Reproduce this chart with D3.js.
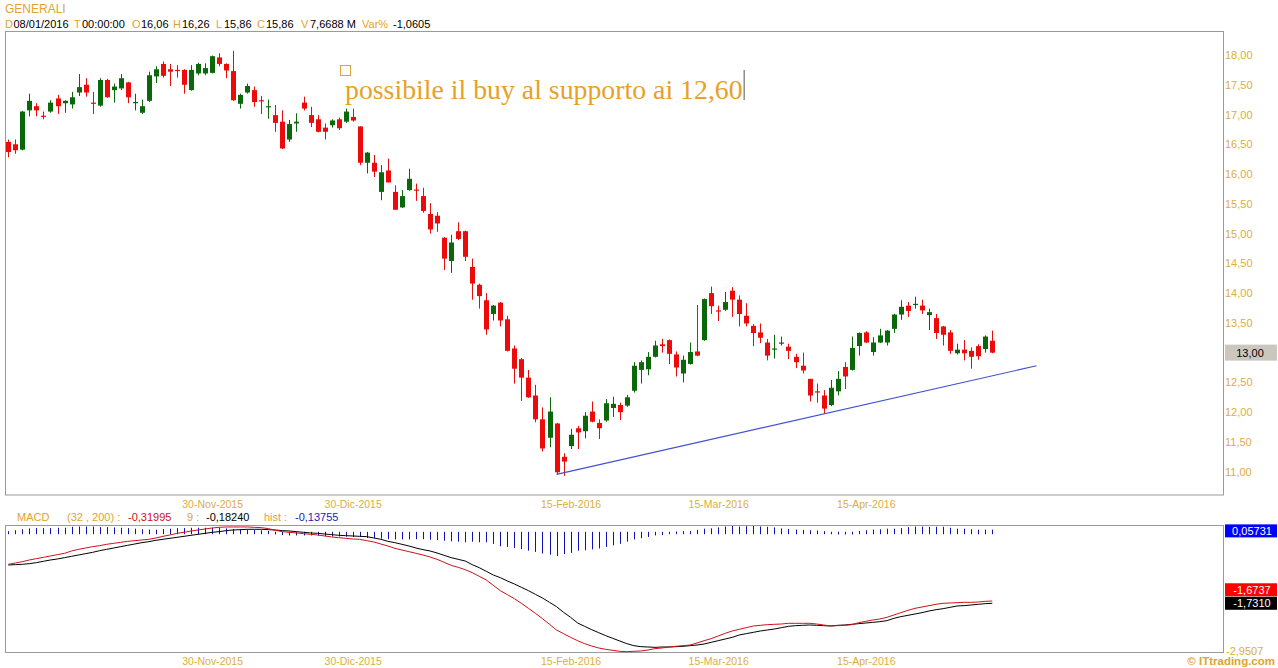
<!DOCTYPE html>
<html><head><meta charset="utf-8">
<script src="https://cdn.jsdelivr.net/npm/d3@7"></script>
<style>body{margin:0;background:#fff}svg{display:block;font-family:"Liberation Sans",Arial,sans-serif}</style>
</head><body><svg id="c" width="1278" height="668"></svg>
<script>
// ---- data ----
const open = [16.54,16.50,16.41,17.07,17.14,16.98,17.05,17.27,17.19,17.17,17.37,17.50,17.20,17.15,17.58,17.41,17.44,17.54,17.19,17.03,
17.23,17.64,17.85,17.76,17.75,17.75,17.41,17.69,17.69,17.70,17.96,17.85,17.73,17.18,17.37,17.41,17.24,17.12,16.99,16.88,
16.58,16.85,17.20,16.99,16.92,16.78,16.82,16.92,16.88,16.96,16.80,16.19,16.19,15.70,16.06,15.70,15.44,15.73,15.74,15.63,
15.33,15.30,14.93,14.54,15.04,15.04,14.44,14.14,13.88,13.65,13.84,13.56,13.07,12.89,12.58,12.28,11.88,11.57,11.81,11.25,
11.43,11.73,11.68,12.01,11.82,11.86,12.07,12.12,12.11,12.36,12.71,12.72,12.93,13.14,13.21,12.97,12.65,12.81,13.02,13.21,
14.00,13.71,13.72,14.04,13.89,13.62,13.45,13.34,13.17,13.06,13.16,13.10,12.93,12.78,12.56,12.35,12.28,12.12,12.35,12.76,
12.71,13.11,13.34,13.01,13.17,13.17,13.40,13.64,13.79,13.81,13.79,13.63,13.58,13.44,13.34,12.99,13.05,13.03,13.11,13.06,13.20];
const high = [16.58,16.58,17.06,17.35,17.19,17.05,17.24,17.33,17.24,17.38,17.68,17.61,17.38,17.61,17.60,17.52,17.68,17.55,17.35,17.25,
17.72,17.81,17.89,17.85,17.83,17.76,17.83,17.87,17.86,17.99,18.03,17.86,18.07,17.35,17.52,17.47,17.31,17.25,17.16,17.07,
16.91,17.02,17.30,17.13,16.99,16.85,16.92,16.95,17.10,17.10,16.80,16.37,16.32,16.15,16.26,15.81,15.73,16.09,15.84,15.77,
15.51,15.36,14.94,14.98,15.19,15.05,14.58,14.16,14.00,13.80,13.85,13.62,13.12,12.91,12.71,12.46,12.08,12.25,11.82,11.31,
11.72,11.77,12.00,12.18,11.88,12.22,12.26,12.16,12.29,12.84,12.87,13.01,13.20,13.23,13.22,13.02,12.95,13.17,13.80,13.91,
14.11,13.79,14.02,14.10,13.96,13.83,13.48,13.49,13.23,13.30,13.27,13.15,12.98,13.00,12.56,12.48,12.37,12.54,12.69,12.84,
13.27,13.34,13.36,13.26,13.40,13.38,13.65,13.88,13.85,13.94,13.89,13.74,13.65,13.45,13.38,13.15,13.21,13.09,13.14,13.29,13.37];
const low = [16.28,16.34,16.40,16.97,16.97,16.92,17.03,17.01,17.03,17.10,17.31,17.30,17.01,17.13,17.28,17.20,17.41,17.19,17.07,17.01,
17.21,17.53,17.62,17.48,17.62,17.35,17.40,17.66,17.66,17.69,17.81,17.61,17.23,17.10,17.35,17.13,17.01,16.93,16.71,16.42,
16.54,16.71,17.07,16.79,16.70,16.58,16.78,16.74,16.86,16.88,16.15,16.01,15.95,15.56,15.86,15.40,15.43,15.72,15.55,15.35,
15.00,15.03,14.39,14.34,14.89,14.54,13.89,13.74,13.30,13.54,13.44,13.02,12.48,12.19,12.24,11.83,11.34,11.41,10.96,10.93,
11.38,11.38,11.56,11.83,11.55,11.84,11.92,11.87,12.09,12.33,12.48,12.62,12.92,13.00,12.81,12.60,12.50,12.80,12.94,13.20,
13.65,13.53,13.70,13.60,13.44,13.44,13.11,13.16,12.87,12.90,13.12,12.89,12.74,12.65,12.18,12.16,11.98,12.10,12.28,12.39,
12.70,12.95,13.16,12.95,13.16,13.12,13.33,13.55,13.60,13.74,13.65,13.38,13.23,13.12,12.98,12.97,12.87,12.73,12.88,13.00,12.99];
const close = [16.37,16.40,17.05,17.23,17.07,16.96,17.20,17.14,17.23,17.29,17.46,17.37,17.19,17.58,17.29,17.47,17.61,17.29,17.21,17.14,
17.66,17.76,17.65,17.72,17.74,17.50,17.75,17.85,17.78,17.98,17.85,17.74,17.24,17.33,17.48,17.21,17.22,17.14,16.86,16.43,
16.84,16.88,17.10,16.86,16.71,16.71,16.90,16.77,17.05,16.90,16.19,16.36,16.04,16.03,15.86,15.40,15.63,15.92,15.73,15.38,
15.07,15.17,14.58,14.85,14.91,14.61,14.16,13.95,13.39,13.79,13.54,13.03,12.73,12.58,12.25,11.88,11.39,12.01,10.99,11.17,
11.62,11.66,11.94,11.84,11.73,12.15,12.14,12.00,12.25,12.78,12.84,12.93,13.12,13.11,12.98,12.75,12.88,13.01,12.95,13.90,
13.78,13.69,13.85,13.89,13.65,13.49,13.33,13.25,12.95,13.07,13.17,13.03,12.84,12.70,12.28,12.34,12.06,12.41,12.56,12.60,
13.08,13.33,13.17,13.17,13.29,13.37,13.64,13.77,13.70,13.82,13.71,13.68,13.33,13.30,13.03,13.05,12.99,12.93,12.94,13.27,13.00];

const macd = [-0.750,-0.716,-0.683,-0.641,-0.607,-0.574,-0.540,-0.506,-0.473,-0.414,-0.372,-0.339,-0.305,-0.280,-0.246,-0.221,-0.196,-0.171,-0.154,-0.137,
-0.120,-0.087,-0.045,-0.011,0.031,0.056,0.090,0.115,0.140,0.165,0.182,0.191,0.191,0.191,0.191,0.182,0.174,0.149,0.107,0.073,
0.056,0.040,0.023,0.006,-0.011,-0.036,-0.061,-0.078,-0.095,-0.112,-0.120,-0.154,-0.187,-0.238,-0.288,-0.347,-0.389,-0.431,-0.473,-0.515,
-0.565,-0.624,-0.699,-0.775,-0.825,-0.884,-0.960,-1.052,-1.144,-1.279,-1.413,-1.514,-1.615,-1.732,-1.858,-1.984,-2.119,-2.261,-2.404,-2.496,
-2.589,-2.673,-2.748,-2.807,-2.857,-2.891,-2.916,-2.941,-2.950,-2.941,-2.933,-2.908,-2.874,-2.857,-2.832,-2.815,-2.799,-2.782,-2.731,-2.673,
-2.622,-2.555,-2.488,-2.429,-2.387,-2.345,-2.303,-2.286,-2.270,-2.261,-2.253,-2.236,-2.236,-2.236,-2.236,-2.253,-2.278,-2.303,-2.295,-2.286,
-2.270,-2.219,-2.186,-2.152,-2.127,-2.085,-2.026,-1.967,-1.909,-1.858,-1.825,-1.791,-1.757,-1.732,-1.724,-1.715,-1.707,-1.707,-1.699,-1.682,-1.674];
const signal = [-0.767,-0.758,-0.750,-0.733,-0.708,-0.674,-0.641,-0.615,-0.582,-0.548,-0.515,-0.481,-0.448,-0.406,-0.372,-0.339,-0.305,-0.271,-0.238,-0.204,
-0.179,-0.145,-0.120,-0.095,-0.070,-0.045,-0.019,0.006,0.031,0.056,0.073,0.098,0.115,0.123,0.132,0.132,0.132,0.123,0.115,0.098,
0.090,0.073,0.056,0.040,0.031,0.014,-0.002,-0.019,-0.028,-0.036,-0.045,-0.053,-0.087,-0.120,-0.171,-0.204,-0.246,-0.288,-0.339,-0.380,
-0.414,-0.464,-0.523,-0.582,-0.624,-0.666,-0.758,-0.834,-0.926,-1.019,-1.086,-1.170,-1.245,-1.329,-1.413,-1.506,-1.598,-1.707,-1.816,-1.959,
-2.085,-2.228,-2.312,-2.396,-2.471,-2.547,-2.614,-2.681,-2.748,-2.799,-2.824,-2.832,-2.841,-2.832,-2.832,-2.824,-2.815,-2.799,-2.782,-2.757,
-2.715,-2.673,-2.631,-2.589,-2.530,-2.496,-2.463,-2.429,-2.404,-2.379,-2.345,-2.312,-2.295,-2.286,-2.278,-2.286,-2.295,-2.303,-2.286,-2.278,
-2.261,-2.244,-2.228,-2.211,-2.194,-2.169,-2.110,-2.068,-2.035,-2.001,-1.967,-1.925,-1.892,-1.867,-1.833,-1.799,-1.791,-1.774,-1.757,-1.741,-1.732];
const hist = [0.017,0.042,0.067,0.092,0.101,0.100,0.101,0.109,0.109,0.134,0.143,0.142,0.143,0.126,0.126,0.118,0.109,0.100,0.084,0.067,
0.059,0.058,0.075,0.084,0.101,0.101,0.109,0.109,0.109,0.109,0.109,0.093,0.076,0.068,0.059,0.050,0.042,0.026,-0.008,-0.025,
-0.034,-0.033,-0.033,-0.034,-0.042,-0.050,-0.059,-0.059,-0.067,-0.076,-0.075,-0.101,-0.100,-0.118,-0.138,-0.143,-0.143,-0.143,-0.134,-0.135,
-0.151,-0.160,-0.176,-0.193,-0.201,-0.218,-0.202,-0.218,-0.218,-0.260,-0.327,-0.344,-0.370,-0.403,-0.445,-0.478,-0.521,-0.554,-0.588,-0.537,
-0.504,-0.445,-0.436,-0.411,-0.386,-0.344,-0.302,-0.260,-0.202,-0.142,-0.109,-0.076,-0.033,-0.025,0.000,0.009,0.016,0.017,0.051,0.084,
0.093,0.118,0.143,0.160,0.143,0.151,0.160,0.143,0.134,0.118,0.092,0.076,0.059,0.050,0.042,0.033,0.017,0.000,-0.009,-0.008,
-0.009,0.025,0.042,0.059,0.067,0.084,0.084,0.101,0.126,0.143,0.142,0.134,0.135,0.135,0.109,0.084,0.084,0.067,0.058,0.059,0.058];

const priceTicks = [11,11.5,12,12.5,13,13.5,14,14.5,15,15.5,16,16.5,17,17.5,18];
const dateTickIdx = [30,50,81,102,123];
const dateTickLabels = ["30-Nov-2015","30-Dic-2015","15-Feb-2016","15-Mar-2016","15-Apr-2016"];
const trendPts = [[79,10.955],[147.3,12.78]];
const lastPrice = 13.00, lastMacd = -1.6737, lastSignal = -1.7310, lastHist = 0.05731, macdMin = -2.9507;
const headerLabels = ["D","T","O","H","L","C","V","Var%"];
const headerValues = ["08/01/2016","00:00:00","16,06","16,26","15,86","15,86","7,6688 M","-1,0605"];
const legendMacd = ["MACD","(32 , 200) :","-0,31995","9 :","-0,18240","hist :","-0,13755"];

// ---- drawing ----
const svg = d3.select("#c");
const ORANGE = "#e3a22e", TICK = "#dcae3c", RED = "#ec0a0a", GREEN = "#0a680a";
const loc = d3.formatLocale({decimal:",",thousands:".",grouping:[3],currency:["","€"],minus:"-"});
const f2 = loc.format(".2f"), f4 = loc.format(".4f"), f5 = loc.format(".5f");
const idx = d3.range(1, open.length + 1);

const x = d3.scaleLinear().domain([1, 141]).range([8.3, 992.3]);
const y = d3.scaleLinear().domain([11, 18]).range([471.7, 55]);
const my = d3.scaleLinear().domain([macdMin, 0.19]).range([651.7, 527]);
const hy = d3.scaleLinear().domain([0, 1]).range([533, 496]);

// header
svg.append("text").attr("x",5).attr("y",13).attr("fill",ORANGE).attr("font-size",12).text("GENERALI");
const hx = [[5,13.5],[74,82],[132,141],[173,182],[216,224],[257,266],[301,310],[362,393]];
headerLabels.forEach((l,i)=>{
  svg.append("text").attr("x",hx[i][0]).attr("y",28).attr("font-size",11).attr("fill",ORANGE).text(l);
  svg.append("text").attr("x",hx[i][1]).attr("y",28).attr("font-size",11).attr("fill","#000").text(headerValues[i]);
});

// panels
svg.append("rect").attr("x",5.5).attr("y",31.5).attr("width",1218).attr("height",463.5).attr("fill","none").attr("stroke","#9a9a9a");
svg.append("rect").attr("x",5.5).attr("y",525.5).attr("width",1218).attr("height",127).attr("fill","none").attr("stroke","#9a9a9a");

// price axis (the tick under the last-price box is covered by that box)
const ya = svg.append("g").attr("transform","translate(1223,0)")
  .call(d3.axisRight(y).tickValues(priceTicks.filter(v=>v!==lastPrice)).tickSize(0).tickPadding(2).tickFormat(f2));
ya.select(".domain").remove();
ya.selectAll("text").attr("fill",TICK).attr("font-size",11).attr("font-family","Liberation Sans, Arial, sans-serif");

// date axes
[495, 652].forEach(yy=>{
  const g = svg.append("g").attr("transform",`translate(0,${yy})`)
    .call(d3.axisBottom(x).tickValues(dateTickIdx).tickSize(0).tickPadding(6).tickFormat((d,i)=>dateTickLabels[i]));
  g.select(".domain").remove();
  g.selectAll("text").attr("fill",TICK).attr("font-size",10.5).attr("font-family","Liberation Sans, Arial, sans-serif");
});

// candles
const cg = svg.append("g");
idx.forEach((d,i)=>{
  const up = close[i] > open[i];
  const col = up ? GREEN : RED;
  const cx = Math.round(x(d));
  cg.append("line").attr("x1",cx+0.5).attr("x2",cx+0.5).attr("y1",y(high[i])).attr("y2",y(low[i])).attr("stroke",col).attr("stroke-width",1);
  const top = y(Math.max(open[i],close[i])), bot = y(Math.min(open[i],close[i]));
  cg.append("rect").attr("x",cx-2).attr("width",5).attr("y",top).attr("height",Math.max(1.2,bot-top)).attr("fill",col);
});

// trend line
svg.append("line").attr("x1",x(trendPts[0][0])).attr("y1",y(trendPts[0][1]))
  .attr("x2",x(trendPts[1][0])).attr("y2",y(trendPts[1][1])).attr("stroke","#4150d2").attr("stroke-width",1.1);

// annotation
svg.append("rect").attr("x",340.5).attr("y",65.5).attr("width",10).attr("height",10).attr("fill","none").attr("stroke","#e6a230");
const ann = svg.append("text").attr("x",345).attr("y",98.5).attr("font-family","Liberation Serif, Times New Roman, serif")
  .attr("font-size",27.8).attr("fill","#e8a128").text("possibile il buy al supporto ai 12,60");
const bb = ann.node().getBBox();
svg.append("line").attr("x1",bb.x+bb.width+1.5).attr("x2",bb.x+bb.width+1.5).attr("y1",70).attr("y2",100).attr("stroke","#555").attr("stroke-width",1);

// last price box
svg.append("rect").attr("x",1225).attr("y",y(lastPrice)-8).attr("width",52).attr("height",16).attr("fill","#cbc7bf");
svg.append("text").attr("x",1250).attr("y",y(lastPrice)+4).attr("text-anchor","middle").attr("font-size",11).attr("fill","#000").text(f2(lastPrice));

// MACD legend
const lx = [17,67,128,187,206,264,295];
const lc = [ORANGE,ORANGE,"#d0101a",ORANGE,"#000",ORANGE,"#1a1ab0"];
legendMacd.forEach((t,i)=>svg.append("text").attr("x",lx[i]).attr("y",520.5).attr("font-size",11).attr("fill",lc[i]).text(t));

// MACD panel
svg.append("clipPath").attr("id","mc").append("rect").attr("x",6).attr("y",526).attr("width",1217).attr("height",128);
const mg = svg.append("g").attr("clip-path","url(#mc)");
idx.forEach((d,i)=>{
  const cx = Math.round(x(d))+0.5;
  const a = hy(0), b = hy(hist[i]);
  mg.append("line").attr("x1",cx).attr("x2",cx).attr("y1",Math.min(a,b)-1.2).attr("y2",Math.max(a,b)+1.2)
    .attr("stroke","#1010b8").attr("stroke-width",1);
});
const line = (arr)=>d3.line().x((d,i)=>x(idx[i])).y(d=>my(d))(arr);
mg.append("path").attr("d",line(signal)).attr("fill","none").attr("stroke","#000").attr("stroke-width",1);
mg.append("path").attr("d",line(macd)).attr("fill","none").attr("stroke","#d0101a").attr("stroke-width",1);

// MACD right labels
const bY = my(lastSignal), rY = Math.min(my(lastMacd), bY - 13.5), hY = hy(lastHist);
[[hY,"#0000ff",f5(lastHist)],[rY,"#ff0000",f4(lastMacd)],[bY,"#000000",f4(lastSignal)]].forEach(([cy,fill,t])=>{
  svg.append("rect").attr("x",1225).attr("y",cy-6.5).attr("width",52).attr("height",13).attr("fill",fill);
  svg.append("text").attr("x",1252).attr("y",cy+4).attr("text-anchor","middle").attr("font-size",11).attr("fill","#fff").text(t);
});
svg.append("text").attr("x",1226).attr("y",my(macdMin)+3).attr("font-size",11).attr("fill",TICK).text(f4(macdMin));
svg.append("text").attr("x",1275).attr("y",665).attr("text-anchor","end").attr("font-size",11.5).attr("font-weight","bold").attr("fill",ORANGE).text("© ITtrading.com");
</script></body></html>
